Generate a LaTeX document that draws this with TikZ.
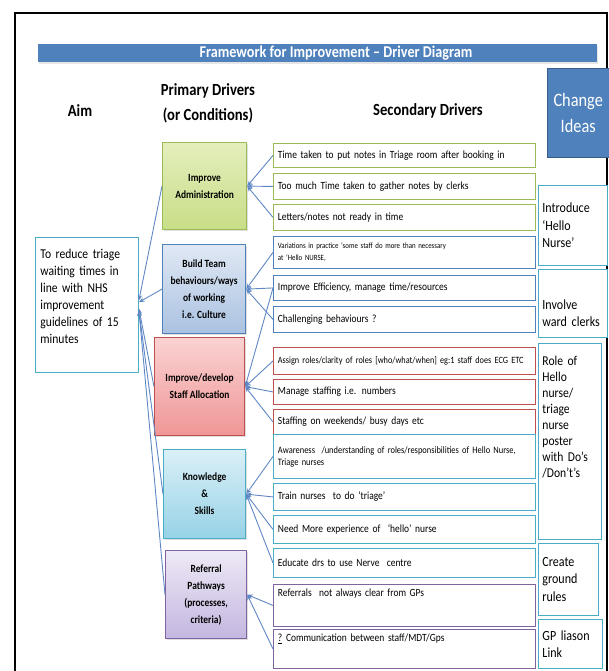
\documentclass[tikz,border=0pt]{standalone}
\usepackage{fontspec}
\setmainfont[FakeStretch=0.86]{Carlito}
\usetikzlibrary{arrows.meta,shadows}

\definecolor{hdrblue}{RGB}{79,129,189}
\definecolor{hdrdark}{RGB}{56,93,138}
\definecolor{linkblue}{RGB}{95,135,196}
\definecolor{admline}{RGB}{155,187,89}
\definecolor{admtop}{RGB}{228,238,188}
\definecolor{admbot}{RGB}{200,222,135}
\definecolor{teamline}{RGB}{79,129,189}
\definecolor{teamtop}{RGB}{224,232,244}
\definecolor{teambot}{RGB}{170,194,225}
\definecolor{staffline}{RGB}{192,80,77}
\definecolor{stafftop}{RGB}{250,210,210}
\definecolor{staffbot}{RGB}{240,150,150}
\definecolor{skillline}{RGB}{75,172,198}
\definecolor{skilltop}{RGB}{218,240,247}
\definecolor{skillbot}{RGB}{150,210,230}
\definecolor{refline}{RGB}{128,100,162}
\definecolor{reftop}{RGB}{238,233,246}
\definecolor{refbot}{RGB}{196,182,223}
\definecolor{idealine}{RGB}{75,172,198}

\tikzset{
  heading/.style={font=\fontsize{17}{25}\selectfont\bfseries, align=center},
  driver/.style={draw=#1line, top color=#1top, bottom color=#1bot, line width=1.2pt,
    anchor=north west, align=center, font=\fontsize{11}{17}\selectfont\bfseries,
    drop shadow={opacity=0.25, shadow xshift=1.5pt, shadow yshift=-1.5pt}},
  second/.style={draw=#1line, fill=white, line width=0.9pt, anchor=north west,
    text width=253pt, inner xsep=4.5pt, align=left, font=\fontsize{11}{13}\selectfont},
  small/.style={font=\fontsize{#1}{12}\selectfont},
  idea/.style={draw=idealine, fill=white, line width=0.9pt, anchor=north west, inner xsep=4pt,
    text width=#1, align=left, font=\fontsize{14}{17.5}\selectfont},
  link/.style={draw=linkblue, line width=0.9pt, -{Stealth[length=5.5pt,width=4.5pt]}},
}

\begin{document}
\begin{tikzpicture}[x=1pt,y=-1pt]
\useasboundingbox (0,0) rectangle (609,671);
\draw[line width=1.8pt] (15,690) -- (15,13) -- (607,13) -- (607,690);

% title bar and column headings
\node[fill=hdrblue, anchor=north west, minimum width=559pt, minimum height=18pt,
  drop shadow={opacity=0.2, shadow xshift=1pt, shadow yshift=-1.5pt}] (bar) at (38,44) {};
\node[text=white, font=\fontsize{16.5}{18}\selectfont\bfseries] (title) at (336,53) {Framework for Improvement -- Driver Diagram};
\node[fill=hdrblue, draw=hdrdark, anchor=north west, minimum width=62pt, minimum height=89pt,
  text=white, align=center, font=\fontsize{19}{26}\selectfont] (chg) at (547,68) {Change\\Ideas};
\node[heading] (haim) at (80,111) {Aim};
\node[heading] (hprim) at (208,103) {Primary Drivers\\(or Conditions)};
\node[heading] (hsec) at (428,111) {Secondary Drivers};

% aim
\node[draw=idealine, line width=0.9pt, anchor=north west, text width=93pt, inner xsep=5pt,
  inner ysep=3pt, text height=18pt, text depth=111pt, align=left,
  font=\fontsize{13.5}{17}\selectfont] (aim) at (35,237)
  {To reduce triage\\waiting times in\\line with NHS\\improvement\\guidelines of 15\\minutes};

% primary drivers
\node[driver=adm, minimum width=84pt, minimum height=87pt] (adm) at (162,142) {Improve\\Administration};
\node[driver=team, minimum width=83pt, minimum height=89pt] (team) at (162,244) {Build Team\\behaviours/ways\\of working\\i.e. Culture};
\node[driver=staff, minimum width=90pt, minimum height=98pt] (staff) at (154,337) {Improve/develop\\Staff Allocation};
\node[driver=skill, minimum width=82pt, minimum height=89pt] (skill) at (163,449) {Knowledge\\\&\\Skills};
\node[driver=ref, minimum width=81pt, minimum height=88pt] (ref) at (165,550) {Referral\\Pathways\\(processes,\\criteria)};

% secondary drivers
\node[second=adm, minimum height=24pt] (s1) at (273,143) {Time taken to put notes in Triage room after booking in};
\node[second=adm, minimum height=26pt] (s2) at (273,173) {Too much Time taken to gather notes by clerks};
\node[second=adm, minimum height=26pt] (s3) at (273,204) {Letters/notes not ready in time};
\node[second=team, small=8, minimum height=32pt] (s4) at (273,236) {Variations in practice `some staff do more than necessary\\at `Hello NURSE,};
\node[second=team, minimum height=25pt] (s5) at (273,275) {Improve Efficiency, manage time/resources};
\node[second=team, minimum height=26pt] (s6) at (273,306) {Challenging behaviours ?};
\node[second=staff, small=9.6, minimum height=27pt] (s7) at (273,347) {Assign roles/clarity of roles [who/what/when] eg:1 staff does ECG ETC};
\node[second=staff, minimum height=25pt] (s8) at (273,379) {Manage staffing i.e. numbers};
\node[second=staff, minimum height=25pt] (s9) at (273,409) {Staffing on weekends/ busy days etc};
\node[second=skill, small=9.8, minimum height=44pt] (s10) at (273,434) {Awareness \ /understanding of roles/responsibilities of Hello Nurse,\\Triage nurses};
\node[second=skill, minimum height=27pt] (s11) at (273,483) {Train nurses \ to do `triage'};
\node[second=skill, minimum height=28pt] (s12) at (273,515) {Need More experience of \ `hello' nurse};
\node[second=skill, minimum height=29pt] (s13) at (273,548) {Educate drs to use Nerve \ centre};
\node[second=ref, inner ysep=3pt, text height=9pt, text depth=27pt] (s14) at (273,584) {Referrals \ not always clear from GPs};
\node[second=ref, inner ysep=3pt, text height=9pt, text depth=24pt] (s15) at (273,629) {\underline{?} Communication between staff/MDT/Gps};

% change ideas
\node[idea=61pt, minimum height=80pt] (c1) at (538,185) {Introduce\\`Hello\\Nurse'};
\node[idea=61pt, inner ysep=3pt, text height=37pt, text depth=25pt] (c2) at (538,269) {Involve\\ward clerks};
\node[idea=55pt, inner ysep=3pt, text height=19pt, text depth=171pt,
  font=\fontsize{13.5}{16}\selectfont] (c3) at (538,343) {Role of\\Hello\\nurse/\\triage\\nurse\\poster\\with Do's\\/Don't's};
\node[idea=52pt, minimum height=72pt] (c4) at (538,543) {Create\\ground\\rules};
\node[idea=56pt, minimum height=49pt] (c5) at (538,619) {GP liason\\Link};

% secondary -> primary
\foreach \s in {s1,s2,s3} \draw[link] (\s.west) -- (adm.east);
\foreach \s in {s4,s5,s6} \draw[link] (\s.west) -- (team.east);
\foreach \s in {s5,s7,s8,s9} \draw[link] (\s.west) -- (staff.east);
\foreach \s in {s10,s11,s12,s13} \draw[link] (\s.west) -- (skill.east);
\foreach \s in {s14,s15} \draw[link] (\s.west) -- (ref.east);

% primary -> aim
\draw[link] (adm.west) -- (aim.5);
\draw[link] (team.west) -- (aim.3);
\draw[link] (staff.west) -- (aim.-4);
\draw[link] (skill.west) -- (aim.-6);
\draw[link] (ref.west) -- (aim.-6);
\end{tikzpicture}
\end{document}
